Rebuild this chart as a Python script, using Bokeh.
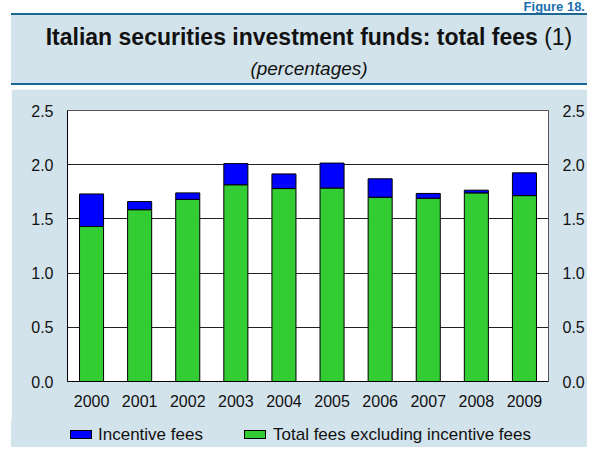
from bokeh.plotting import figure
from bokeh.layouts import column
from bokeh.models import (ColumnDataSource, Range1d, LinearAxis, Div,
                          FixedTicker, PrintfTickFormatter)
from bokeh.embed import file_html
from bokeh.resources import INLINE

years = ["2000", "2001", "2002", "2003", "2004", "2005", "2006", "2007", "2008", "2009"]
excl_incentive = [1.43, 1.585, 1.68, 1.815, 1.78, 1.785, 1.70, 1.69, 1.74, 1.715]
incentive = [0.30, 0.075, 0.06, 0.195, 0.135, 0.23, 0.17, 0.045, 0.025, 0.21]
y_ticks = [0.0, 0.5, 1.0, 1.5, 2.0, 2.5]
series_names = ["Incentive fees", "Total fees excluding incentive fees"]
series_colors = ["#0000ff", "#33cc33"]

W = 587            # total width
LEFT_GAP = 11      # white strip on the left
HEAD_H = 89        # header height
FIG_H = 331        # chart height
LEG_H = 447 - HEAD_H - FIG_H
FW = W - LEFT_GAP  # chart width

BG = "#d3e3ec"
RULE = "#1b6794"
FONT = "Liberation Sans"

# ---------- header ----------
header_html = f"""
<div style="position:relative;width:{W}px;height:{HEAD_H}px;background:white;font-family:'{FONT}';">
  <div style="position:absolute;right:2px;top:0px;font-weight:bold;font-size:13px;line-height:13px;color:#1b6fae;">Figure 18.</div>
  <div style="position:absolute;left:{LEFT_GAP}px;top:13px;width:{W - LEFT_GAP}px;height:72px;background:{BG};
              border-top:2px solid {RULE};border-bottom:2px solid {RULE};"></div>
  <div style="position:absolute;left:31px;width:556px;top:26px;line-height:23px;text-align:center;
              font-size:23px;color:#111;white-space:nowrap;">
     <b>Italian securities investment funds: total fees</b> (1)</div>
  <div style="position:absolute;left:31px;width:556px;top:59px;line-height:19px;text-align:center;
              font-size:19px;font-style:italic;color:#111;white-space:nowrap;">(percentages)</div>
</div>
"""
header = Div(text=header_html, width=W, height=HEAD_H, margin=(0, 0, 0, 0))

# ---------- chart ----------
FL = 67 - LEFT_GAP      # frame left within chart
FR = 548 - LEFT_GAP     # frame right within chart
FT = 110 - HEAD_H       # frame top within chart
FB = 381 - HEAD_H       # frame bottom within chart

src = ColumnDataSource(dict(year=years, excl=excl_incentive, inc=incentive))

p = figure(x_range=years, y_range=Range1d(0, 2.5), width=FW, height=FIG_H,
           output_backend="svg", toolbar_location=None,
           min_border_left=FL, min_border_right=FW - FR, min_border_top=FT,
           min_border_bottom=FIG_H - FB, margin=(0, 0, 0, LEFT_GAP))
p.border_fill_color = BG
p.background_fill_color = "white"
p.outline_line_color = "#555555"

p.vbar_stack(["excl", "inc"], x="year", width=0.5, source=src,
             color=[series_colors[1], series_colors[0]], line_color="black", line_width=1)

p.x_range.range_padding = 0
p.xgrid.grid_line_color = None
p.ygrid.grid_line_color = "#222222"
p.ygrid.ticker = FixedTicker(ticks=y_ticks)


def style_axis(ax, standoff):
    ax.major_tick_out = 0
    ax.major_tick_in = 0
    ax.minor_tick_out = 0
    ax.minor_tick_in = 0
    ax.major_label_text_font = FONT
    ax.major_label_text_font_size = "16px"
    ax.major_label_text_color = "#111111"
    ax.major_label_standoff = standoff


ya = p.yaxis[0]
ya.ticker = FixedTicker(ticks=y_ticks)
ya.formatter = PrintfTickFormatter(format="%.1f")
style_axis(ya, 14)
ya.axis_line_color = "black"

ry = LinearAxis(ticker=FixedTicker(ticks=y_ticks), formatter=PrintfTickFormatter(format="%.1f"))
style_axis(ry, 14)
ry.axis_line_color = None
p.add_layout(ry, "right")

xa = p.xaxis[0]
style_axis(xa, 13)
xa.axis_line_color = "black"

# ---------- legend ----------
def leg_item(box_left, text_left, color, text):
    return (f'<div style="position:absolute;left:{box_left}px;top:10px;width:22px;height:9px;'
            f'background:{color};border:1px solid black;"></div>'
            f'<div style="position:absolute;left:{text_left}px;top:5px;line-height:19px;'
            f'font-size:17px;color:#111;white-space:nowrap;">{text}</div>')


legend_html = (f'<div style="position:relative;width:{W}px;height:{LEG_H}px;background:white;'
               f'font-family:\'{FONT}\';">'
               f'<div style="position:absolute;left:{LEFT_GAP}px;top:0;width:{W - LEFT_GAP}px;'
               f'height:{LEG_H}px;background:{BG};"></div>'
               + leg_item(70, 98, series_colors[0], series_names[0])
               + leg_item(244, 273, series_colors[1], series_names[1])
               + '</div>')
legend = Div(text=legend_html, width=W, height=LEG_H, margin=(0, 0, 0, 0))

layout = column(header, p, legend, spacing=0)

open("out.html", "w").write(file_html(layout, INLINE))
